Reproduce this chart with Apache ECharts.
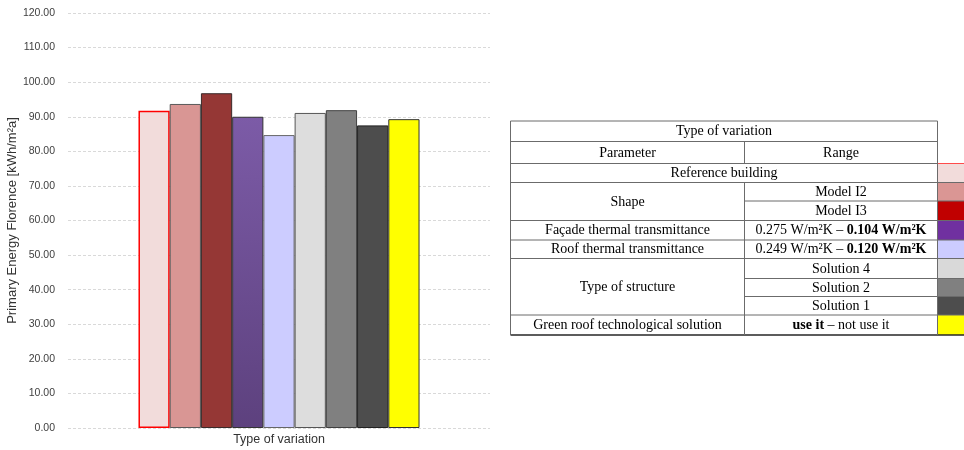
<!DOCTYPE html>
<html><head><meta charset="utf-8">
<script src="https://cdn.jsdelivr.net/npm/echarts@6/dist/echarts.min.js"></script>
<style>html,body{margin:0;padding:0;background:#fff}#c{width:964px;height:450px}</style>
</head><body><div id="c"></div>
<script>
// ---- data ----
const categories = ['Type of variation'];
const seriesNames = ['Reference building', 'Model I2', 'Model I3', 'Façade thermal transmittance',
  'Roof thermal transmittance', 'Solution 4', 'Solution 2', 'Solution 1', 'Green roof technological solution'];
const values = [91.7, 93.7, 96.8, 90.0, 84.7, 91.1, 91.9, 87.5, 89.3];
const yMin = 0, yMax = 120, yInterval = 10;
const yAxisName = 'Primary Energy Florence [kWh/m²a]';

// table content
const tableTitle = 'Type of variation';
const tableHeaders = ['Parameter', 'Range'];
const tableReference = 'Reference building';
const paramGroups = [
  { name: 'Shape', ranges: ['Model I2', 'Model I3'] },
  { name: 'Façade thermal transmittance', ranges: ['0.275 W/m²K – {b|0.104 W/m²K}'] },
  { name: 'Roof thermal transmittance', ranges: ['0.249 W/m²K – {b|0.120 W/m²K}'] },
  { name: 'Type of structure', ranges: ['Solution 4', 'Solution 2', 'Solution 1'] },
  { name: 'Green roof technological solution', ranges: ['{b|use it} – not use it'] }
];

// ---- styles ----
const barColors = ['#f2dcdb', '#d99694', '#953735',
  { type: 'linear', x: 0, y: 0, x2: 0, y2: 1, colorStops: [{ offset: 0, color: '#7c5ba7' }, { offset: 1, color: '#5d417e' }] },
  '#ccccff', '#dddddd', '#808080', '#4d4d4d', '#ffff00'];
const barBorders = ['#ff0000', '#595959', '#3a2a2a', '#333333', '#666666', '#555555', '#404040', '#222222', '#333333'];
const swatchColors = ['#f2dcdb', '#da9694', '#c00000', '#7030a0', '#ccccff', '#d9d9d9', '#808080', '#4d4d4d', '#ffff00'];

const series = seriesNames.map((n, i) => ({
  name: n, type: 'bar', barGap: '0%', barCategoryGap: '33.4%',
  data: [values[i]],
  itemStyle: { color: barColors[i], borderColor: barBorders[i], borderWidth: i === 0 ? 1.5 : 1 }
}));

// ---- table graphic ----
const T = { x0: 510.5, x1: 744.5, x2: 937.5, x3: 966,
  rows: [121, 141.5, 163.5, 182.5, 201, 220.5, 240, 258.5, 278.5, 296.5, 315, 335] };
const lc = '#6b6b6b';
const g = [];
const font = '14px "Liberation Serif", "Times New Roman", serif';
function hline(y, xa, xb, color, w) { g.push({ type: 'line', shape: { x1: xa, y1: y, x2: xb, y2: y }, style: { stroke: color || lc, lineWidth: w || 1 }, z: 10 }); }
function vline(x, ya, yb) { g.push({ type: 'line', shape: { x1: x, y1: ya, x2: x, y2: yb }, style: { stroke: lc, lineWidth: 1 }, z: 10 }); }
function txt(t, xa, xb, ya, yb) {
  g.push({ type: 'text', x: (xa + xb) / 2, y: (ya + yb) / 2 + 0.5, z: 11,
    style: { text: t, font: font, fill: '#000', align: 'center', verticalAlign: 'middle',
      rich: { b: { font: 'bold 14px "Liberation Serif", "Times New Roman", serif', fill: '#000' } } } });
}
const R = T.rows;
// swatches
for (let i = 0; i < swatchColors.length; i++) {
  g.push({ type: 'rect', shape: { x: T.x2, y: R[i + 2], width: T.x3 - T.x2, height: R[i + 3] - R[i + 2] }, style: { fill: swatchColors[i] }, z: 9 });
}
// texts
txt(tableTitle, T.x0, T.x2, R[0], R[1]);
txt(tableHeaders[0], T.x0, T.x1, R[1], R[2]);
txt(tableHeaders[1], T.x1, T.x2, R[1], R[2]);
txt(tableReference, T.x0, T.x2, R[2], R[3]);
let r = 3;
const fullLines = [R[0], R[1], R[2], R[3]];
const partLines = [];
paramGroups.forEach(pg => {
  txt(pg.name, T.x0, T.x1, R[r], R[r + pg.ranges.length]);
  pg.ranges.forEach((rg, k) => {
    txt(rg, T.x1, T.x2, R[r + k], R[r + k + 1]);
    if (k > 0) partLines.push(R[r + k]);
  });
  r += pg.ranges.length;
  fullLines.push(R[r]);
});
fullLines.forEach((y, i) => {
  const last = i === fullLines.length - 1;
  hline(y, T.x0, i < 2 ? T.x2 : T.x3, last ? '#262626' : lc, last ? 1.5 : 1);
});
partLines.forEach(y => hline(y, T.x1, T.x3));
hline(R[2], T.x2, T.x3, '#ff4b4b', 1);
vline(T.x0, R[0], R[11]);
vline(T.x2, R[0], R[11]);
vline(T.x1, R[1], R[2]);
vline(T.x1, R[3], R[11]);

const chart = echarts.init(document.getElementById('c'), null, { renderer: 'canvas' });
chart.setOption({
  animation: false,
  backgroundColor: '#fff',
  grid: { left: 68, right: 474, top: 13, bottom: 22, containLabel: false },
  xAxis: { type: 'category', data: categories,
    axisLine: { show: false }, axisTick: { show: false },
    axisLabel: { color: '#333333', fontSize: 12.5, fontFamily: '"Liberation Sans", Arial, sans-serif', margin: 5 } },
  yAxis: { type: 'value', min: yMin, max: yMax, interval: yInterval,
    name: yAxisName, nameLocation: 'middle', nameGap: 44, nameRotate: 90,
    nameTextStyle: { color: '#333333', fontSize: 13, fontFamily: '"Liberation Sans", Arial, sans-serif' },
    axisLine: { show: false }, axisTick: { show: false },
    axisLabel: { color: '#404040', fontSize: 10.5, fontFamily: '"Liberation Sans", Arial, sans-serif', margin: 13,
      formatter: v => v.toFixed(2) },
    splitLine: { lineStyle: { color: '#d9d9d9', type: [3, 2], width: 1 } } },
  series: series,
  graphic: { elements: g }
});
</script>
</body></html>
